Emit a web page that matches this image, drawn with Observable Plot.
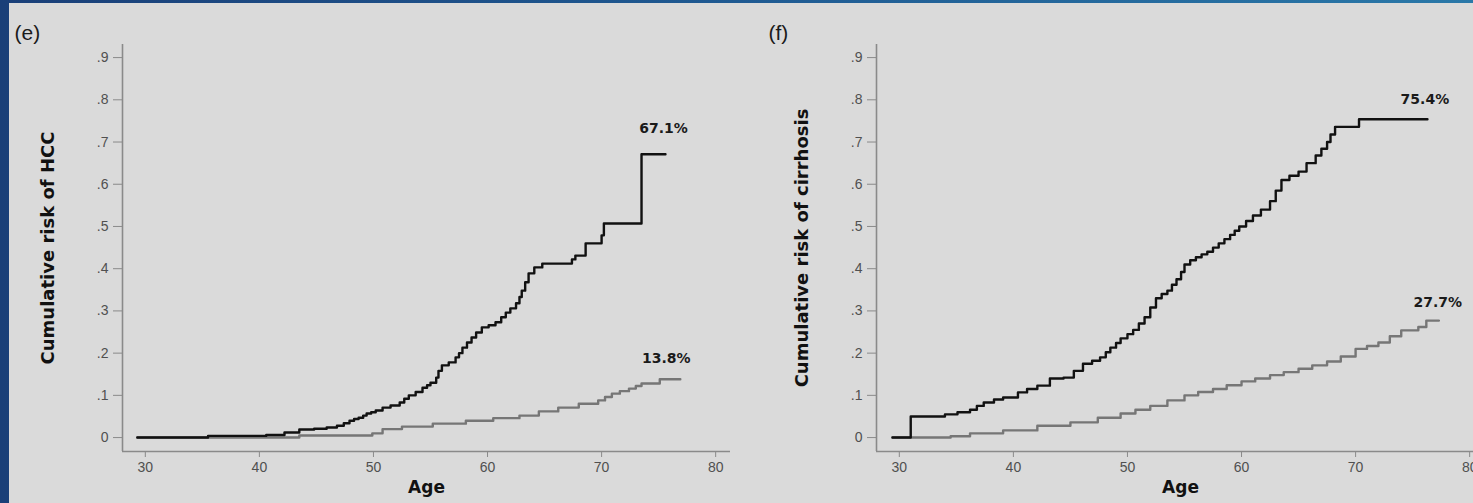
<!DOCTYPE html>
<html>
<head>
<meta charset="utf-8">
<script src="https://cdn.jsdelivr.net/npm/d3@7"></script>
<script src="https://cdn.jsdelivr.net/npm/@observablehq/plot@0.6"></script>
<style>
  html, body { margin: 0; padding: 0; width: 1473px; height: 503px; overflow: hidden; }
  body { background: linear-gradient(to right, #1a3f78, #1f5a92 50%, #2a78a8); position: relative; font-family: "Liberation Sans", Arial, sans-serif; }
  #panel { position: absolute; left: 9px; top: 3px; width: 1464px; height: 500px; background: #dadada; overflow: hidden; }
  .chart { position: absolute; top: 0; width: 740px; height: 500px; }
  .chart svg { max-width: none !important; }
  #e { left: 0px; }
  #f { left: 754px; }
</style>
</head>
<body>
<div id="panel">
  <div id="e" class="chart"></div>
  <div id="f" class="chart"></div>
</div>
<script>
// ---- Data ----
const yTicks = [0, 0.1, 0.2, 0.3, 0.4, 0.5, 0.6, 0.7, 0.8, 0.9];
const xTicks = [30, 40, 50, 60, 70, 80];

// Panel (e): HCC
const hccAgeBlack = [29.3, 35.5, 40.6, 42.2, 43.5, 44.8, 45.9, 46.8, 47.4, 47.9, 48.3, 48.7, 49.1, 49.4, 49.8, 50.2, 50.8, 51.5, 52.3, 52.7, 53.1, 53.7, 54.3, 54.7, 55.0, 55.5, 55.7, 56.0, 56.6, 57.2, 57.5, 57.8, 58.2, 58.6, 59.0, 59.5, 60.1, 60.7, 61.2, 61.6, 62.0, 62.5, 62.8, 63.0, 63.3, 63.6, 64.1, 64.8, 67.4, 67.7, 68.6, 70.0, 70.2, 73.5, 75.6];
const hccRiskBlack = [0, 0.004, 0.006, 0.012, 0.019, 0.021, 0.024, 0.028, 0.034, 0.040, 0.044, 0.047, 0.052, 0.057, 0.060, 0.064, 0.071, 0.076, 0.083, 0.092, 0.100, 0.108, 0.118, 0.124, 0.130, 0.142, 0.158, 0.171, 0.178, 0.190, 0.200, 0.213, 0.225, 0.237, 0.249, 0.261, 0.266, 0.273, 0.285, 0.296, 0.306, 0.318, 0.333, 0.348, 0.368, 0.389, 0.403, 0.412, 0.422, 0.431, 0.460, 0.479, 0.507, 0.671, 0.671];
const hccAgeGray = [29.3, 43.5, 49.9, 50.8, 52.5, 55.2, 58.1, 60.5, 62.8, 64.5, 66.2, 68.0, 69.7, 70.3, 70.9, 71.6, 72.4, 73.0, 73.5, 75.1, 76.9];
const hccRiskGray = [0, 0.005, 0.010, 0.020, 0.026, 0.033, 0.040, 0.046, 0.052, 0.062, 0.071, 0.080, 0.088, 0.096, 0.104, 0.110, 0.116, 0.122, 0.128, 0.138, 0.138];

// Panel (f): cirrhosis
const cirAgeBlack = [29.4, 31.0, 34.0, 35.1, 36.2, 36.8, 37.4, 38.3, 39.1, 40.4, 41.2, 42.1, 43.2, 44.4, 45.3, 46.1, 46.9, 47.6, 48.1, 48.5, 49.0, 49.4, 50.0, 50.5, 51.0, 51.5, 52.0, 52.5, 53.0, 53.5, 53.9, 54.3, 54.7, 55.0, 55.5, 56.0, 56.5, 57.0, 57.5, 58.0, 58.5, 59.0, 59.4, 59.8, 60.4, 61.0, 61.7, 62.5, 63.0, 63.5, 64.2, 65.0, 65.7, 66.5, 67.0, 67.5, 67.8, 68.2, 70.3, 76.3];
const cirRiskBlack = [0, 0.050, 0.055, 0.060, 0.066, 0.075, 0.083, 0.090, 0.095, 0.107, 0.115, 0.123, 0.140, 0.142, 0.158, 0.175, 0.182, 0.190, 0.202, 0.213, 0.224, 0.235, 0.245, 0.255, 0.270, 0.285, 0.308, 0.330, 0.340, 0.348, 0.362, 0.375, 0.392, 0.410, 0.420, 0.427, 0.434, 0.440, 0.450, 0.460, 0.470, 0.480, 0.490, 0.500, 0.513, 0.526, 0.540, 0.560, 0.585, 0.610, 0.620, 0.630, 0.650, 0.668, 0.684, 0.700, 0.718, 0.736, 0.754, 0.754];
const cirAgeGray = [29.4, 34.5, 36.2, 39.1, 42.1, 45.0, 47.4, 49.4, 50.7, 52.0, 53.5, 55.0, 56.2, 57.5, 58.7, 60.0, 61.2, 62.5, 63.7, 65.0, 66.2, 67.5, 68.7, 70.0, 71.0, 72.0, 73.0, 74.0, 75.5, 76.2, 77.3];
const cirRiskGray = [0, 0.003, 0.010, 0.017, 0.028, 0.036, 0.047, 0.057, 0.066, 0.075, 0.088, 0.100, 0.108, 0.115, 0.124, 0.133, 0.140, 0.148, 0.155, 0.163, 0.171, 0.180, 0.192, 0.210, 0.217, 0.225, 0.240, 0.254, 0.262, 0.277, 0.277];

const panels = [
  {id: "e", letter: "(e)", ytitle: "Cumulative risk of HCC",
   black: hccAgeBlack.map((a, i) => ({age: a, risk: hccRiskBlack[i]})),
   gray: hccAgeGray.map((a, i) => ({age: a, risk: hccRiskGray[i]})),
   labels: [{age: 75.6, risk: 0.671, text: "67.1%", dy: -26, dx: -2}, {age: 76.2, risk: 0.138, text: "13.8%", dy: -21, dx: -6}]},
  {id: "f", letter: "(f)", ytitle: "Cumulative risk of cirrhosis",
   black: cirAgeBlack.map((a, i) => ({age: a, risk: cirRiskBlack[i]})),
   gray: cirAgeGray.map((a, i) => ({age: a, risk: cirRiskGray[i]})),
   labels: [{age: 76.6, risk: 0.754, text: "75.4%", dy: -20, dx: -6}, {age: 77.9, risk: 0.277, text: "27.7%", dy: -18, dx: -8}]}
];

const axisColor = "#8a8a8a";
const tickText = "#505050";
const fontFam = "'Liberation Sans', Arial, sans-serif";
const boldFam = "'DejaVu Sans', 'Liberation Sans', sans-serif";

for (const p of panels) {
  const labelMarks = p.labels.map(l =>
    Plot.text([l], {x: "age", y: "risk", text: "text", dy: l.dy, dx: l.dx, fontWeight: "bold", fontSize: 14, fontFamily: boldFam, fill: "#1a1a1a"}));
  const chart = Plot.plot({
    width: 740,
    height: 500,
    marginLeft: 113,
    marginRight: 19,
    marginTop: 41,
    marginBottom: 52,
    style: {background: "transparent", fontFamily: fontFam, overflow: "visible"},
    x: {domain: [28, 81.3]},
    y: {domain: [-0.033, 0.931]},
    marks: [
      Plot.ruleX([28], {stroke: axisColor, strokeWidth: 1.6}),
      Plot.ruleY([-0.033], {stroke: axisColor, strokeWidth: 1.6}),
      Plot.axisY(yTicks, {tickSize: 9, tickPadding: 5, stroke: axisColor, fill: tickText, fontSize: 14,
        tickFormat: d => d === 0 ? "0" : "." + Math.round(d * 10), label: null}),
      Plot.axisX(xTicks, {tickSize: 6, tickPadding: 5, stroke: axisColor, fill: tickText, fontSize: 14, label: null}),
      Plot.line(p.gray, {x: "age", y: "risk", curve: "step-after", stroke: "#767676", strokeWidth: 2.4}),
      Plot.line(p.black, {x: "age", y: "risk", curve: "step-after", stroke: "#111", strokeWidth: 2.4}),
      ...labelMarks,
      Plot.text([p.ytitle], {frameAnchor: "left", dx: -74, rotate: -90, text: d => d, fontWeight: "bold", fontSize: 18, fontFamily: boldFam, fill: "#111", textAnchor: "middle", lineAnchor: "middle"}),
      Plot.text(["Age"], {frameAnchor: "bottom", dy: 36, text: d => d, fontWeight: "bold", fontSize: 17, fontFamily: boldFam, fill: "#111", lineAnchor: "middle"}),
      Plot.text([p.letter], {frameAnchor: "top-left", dx: -108, dy: -11, text: d => d, fontSize: 21, fill: "#1a1a1a", textAnchor: "start", lineAnchor: "middle"})
    ]
  });
  document.getElementById(p.id).appendChild(chart);
}
</script>
</body>
</html>
